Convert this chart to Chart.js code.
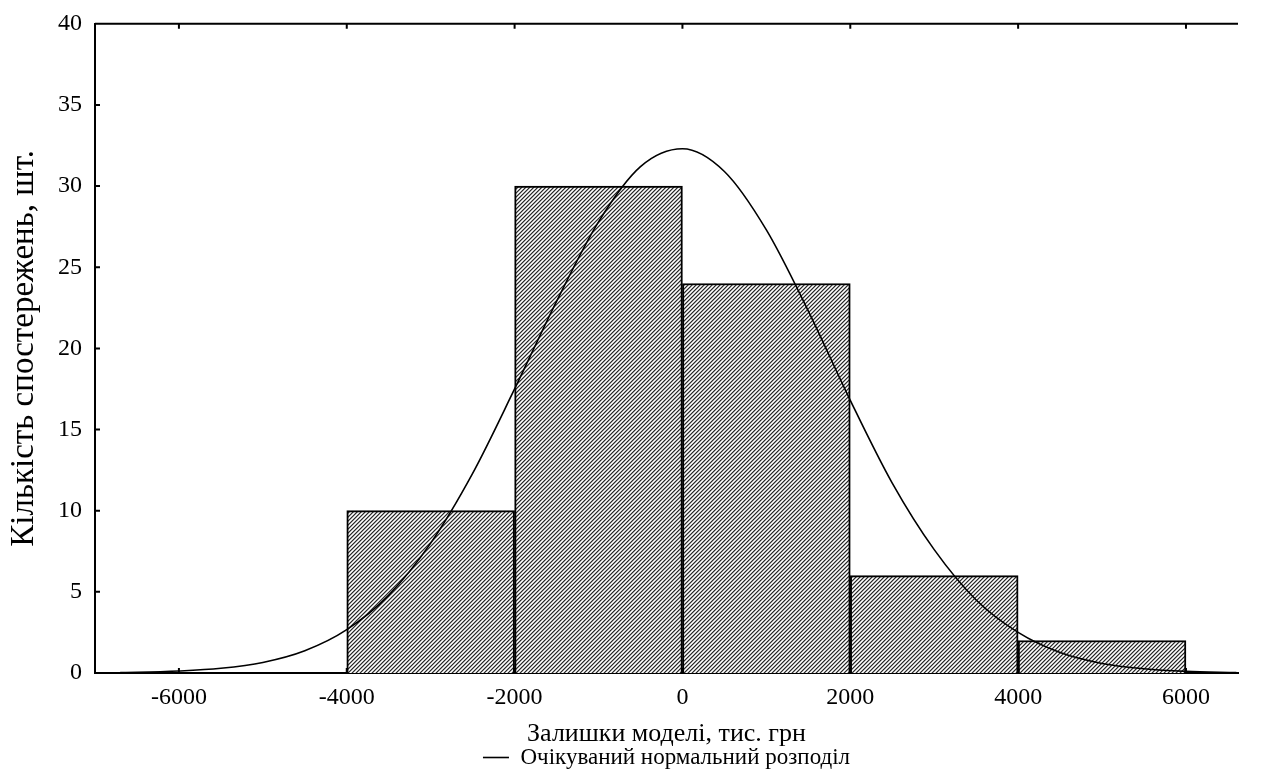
<!DOCTYPE html>
<html>
<head>
<meta charset="utf-8">
<script src="https://cdn.jsdelivr.net/npm/chart.js@4.4.1/dist/chart.umd.min.js"></script>
<style>
  html, body { margin: 0; padding: 0; background: #fff; }
  #wrap { width: 1261px; height: 776px; }
</style>
</head>
<body>
<div id="wrap"><canvas id="chart"></canvas></div>
<script>
// ── Data ──────────────────────────────────────────────────
const binCenters = [-3000, -1000, 1000, 3000, 5000];
const binCounts  = [10, 30, 24, 6, 2];

// expected normal curve
const curveX = [-6700, -6500, -6000, -5500, -5000, -4500, -4000, -3500, -3000, -2500, -2000, -1500,
                -1000, -500, 0, 500, 1000, 1500, 2000, 2500, 3000, 3500, 4000, 4500, 5000, 5500, 6000, 6600];
const curveY = [0.03, 0.04, 0.12, 0.29, 0.65, 1.37, 2.67, 4.8, 8.0, 12.3, 17.5, 22.9,
                27.8, 31.2, 32.3, 30.9, 27.3, 22.3, 16.8, 11.7, 7.6, 4.5, 2.5, 1.26, 0.59, 0.26, 0.1, 0.03];

const xTicks = [-6000, -4000, -2000, 0, 2000, 4000, 6000];
const yTicks = [0, 5, 10, 15, 20, 25, 30, 35, 40];

const FONT = "'Liberation Serif', 'Times New Roman', serif";

// ── Hatch fill ────────────────────────────────────────────
function hatch() {
  const c = document.createElement('canvas');
  c.width = 4; c.height = 4;
  const g = c.getContext('2d');
  const shades = ['#2a2a2a', '#9a9a9a', '#ffffff', '#c8c8c8'];
  for (let yy = 0; yy < 4; yy++) {
    for (let xx = 0; xx < 4; xx++) {
      g.fillStyle = shades[(xx + yy) % 4];
      g.fillRect(xx, yy, 1, 1);
    }
  }
  return g.createPattern(c, 'repeat');
}

// ── Frame: top line and inward ticks ──────────────────────
const framePlugin = {
  id: 'frame',
  afterDraw(chart) {
    const {ctx, chartArea: a, scales: {x, y}} = chart;
    ctx.save();
    ctx.strokeStyle = '#000';
    ctx.lineWidth = 2;
    ctx.beginPath();
    ctx.moveTo(a.left, a.top); ctx.lineTo(a.right, a.top);
    xTicks.forEach(v => {
      const px = x.getPixelForValue(v);
      ctx.moveTo(px, a.top); ctx.lineTo(px, a.top + 5);
      ctx.moveTo(px, a.bottom); ctx.lineTo(px, a.bottom - 5);
    });
    yTicks.forEach(v => {
      const py = y.getPixelForValue(v);
      ctx.moveTo(a.left, py); ctx.lineTo(a.left + 5, py);
    });
    ctx.stroke();
    ctx.restore();
  }
};

// ── Chart ─────────────────────────────────────────────────
new Chart(document.getElementById('chart'), {
  type: 'bar',
  data: {
    datasets: [
      {
        type: 'line',
        label: 'Очікуваний нормальний розподіл',
        data: curveX.map((v, i) => ({x: v, y: curveY[i]})),
        borderColor: '#000', borderWidth: 1.6,
        pointRadius: 0, tension: 0.4, cubicInterpolationMode: 'monotone',
        pointStyle: 'line', fill: false, order: 0
      },
      {
        label: 'bins',
        data: binCenters.map((v, i) => ({x: v, y: binCounts[i]})),
        backgroundColor: hatch(),
        borderColor: '#000', borderWidth: 2,
        barPercentage: 1, categoryPercentage: 1, order: 1
      }
    ]
  },
  options: {
    responsive: true, maintainAspectRatio: false, animation: false,
    layout: { padding: {top: 9, right: 23, left: 4, bottom: -3} },
    plugins: {
      tooltip: {enabled: false},
      legend: {
        position: 'bottom', fullSize: false,
        labels: {
          filter: it => it.datasetIndex === 0,
          usePointStyle: true, pointStyleWidth: 26,
          color: '#000', font: {family: FONT, size: 23}, padding: 0
        }
      }
    },
    scales: {
      x: {
        type: 'linear', min: -7000, max: 6620, offset: false,
        afterBuildTicks: s => { s.ticks = xTicks.map(v => ({value: v})); },
        grid: {display: false, drawTicks: false, offset: false},
        border: {display: true, color: '#000', width: 2},
        ticks: {color: '#000', font: {family: FONT, size: 24, lineHeight: 0.9}, padding: 14, maxRotation: 0,
                callback: v => String(v)},
        title: {display: true, text: 'Залишки моделі, тис. грн', color: '#000',
                font: {family: FONT, size: 26, lineHeight: 0.9}, padding: {top: 0, bottom: 0}}
      },
      y: {
        min: 0, max: 40,
        afterBuildTicks: s => { s.ticks = yTicks.map(v => ({value: v})); },
        grid: {display: false, drawTicks: false},
        border: {display: true, color: '#000', width: 2},
        ticks: {color: '#000', font: {family: FONT, size: 24, lineHeight: 0.9}, padding: 13,
                callback: v => String(v)},
        title: {display: true, text: 'Кількість спостережень, шт.', color: '#000',
                font: {family: FONT, size: 33, lineHeight: 1}, padding: {top: 4, bottom: 4}}
      }
    }
  },
  plugins: [framePlugin]
});
</script>
</body>
</html>
